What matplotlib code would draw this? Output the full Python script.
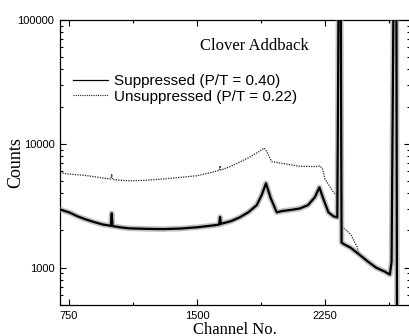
import numpy as np
import matplotlib.pyplot as plt
from matplotlib.lines import Line2D
from matplotlib.ticker import LogLocator, FixedLocator, NullFormatter

# suppressed spectrum (channel, counts)
sup_ch = [697, 750, 800, 850, 900, 950, 995, 1000, 1005, 1050, 1100, 1200, 1300,
          1400, 1500, 1600, 1630, 1635, 1640, 1700, 1750, 1800, 1850, 1880, 1904,
          1930, 1967, 2000, 2050, 2100, 2150, 2190, 2217, 2240, 2270, 2300, 2322,
          2330, 2342, 2347, 2360, 2400, 2450, 2500, 2550, 2600, 2630, 2640, 2652,
          2668, 2672, 2748]
sup_counts = [2950, 2800, 2600, 2450, 2330, 2230, 2180, 2750, 2170, 2120, 2080, 2060, 2050,
              2070, 2120, 2200, 2230, 2570, 2260, 2380, 2550, 2800, 3200, 3900, 4800,
              3700, 2800, 2870, 2930, 3000, 3200, 3700, 4450, 3600, 2800, 2600, 2550,
              200000, 200000, 1600, 1550, 1450, 1280, 1125, 1000, 930, 880, 1120, 200000,
              200000, 300, 300]

# unsuppressed spectrum
uns_ch = [697, 750, 850, 950, 995, 1000, 1005, 1100, 1200, 1300, 1400, 1500, 1600,
          1630, 1635, 1640, 1700, 1800, 1860, 1894, 1910, 1937, 2000, 2100, 2200,
          2220, 2235, 2250, 2300, 2322, 2330, 2342, 2347, 2400, 2437, 2450, 2500,
          2550, 2600, 2630, 2640, 2652, 2668, 2672, 2748]
uns_counts = [5850, 5700, 5550, 5300, 5200, 5700, 5150, 5030, 5080, 5200, 5360, 5530, 5950,
              6100, 6660, 6150, 6600, 7700, 8600, 9250, 8600, 7200, 6950, 6600, 6550,
              6650, 6300, 5200, 4050, 3800, 200000, 200000, 2170, 1860, 1480, 1290, 1130,
              1005, 935, 885, 1125, 200000, 200000, 300, 300]

x_major = [750, 1500, 2250]
x_minor = [1125, 1875, 2625]

fig = plt.figure(figsize=(4.09, 3.36), dpi=100)
ax = fig.add_axes([60 / 409, 31 / 336, 350 / 409, 285 / 336])

ax.plot(uns_ch, uns_counts, color='#222222', lw=0.9, ls=(0, (1, 1)), zorder=2)
ax.plot(sup_ch, sup_counts, color='#999999', lw=4, alpha=0.6, zorder=3)
ax.plot(sup_ch, sup_counts, color='black', lw=1.6, zorder=4)

ax.set_yscale('log')
ax.set_xlim(697, 2748)
ax.set_ylim(500, 100000)

ax.xaxis.set_major_locator(FixedLocator(x_major))
ax.xaxis.set_minor_locator(FixedLocator(x_minor))
ax.yaxis.set_minor_locator(LogLocator(base=10, subs=np.arange(2, 10), numticks=10))
ax.yaxis.set_minor_formatter(NullFormatter())
ax.set_yticks([1000, 10000, 100000])
ax.set_yticklabels(['1000', '10000', '100000'])

ax.tick_params(which='both', direction='in', top=True, right=True,
               labelsize=8, width=0.8, pad=4)
ax.tick_params(which='major', length=4)
ax.tick_params(which='minor', length=2.5)
for lab in ax.get_xticklabels() + ax.get_yticklabels():
    lab.set_fontfamily('Liberation Sans')
for s in ax.spines.values():
    s.set_linewidth(0.9)

ax.set_xlabel('Channel No.', family='Liberation Serif', fontsize=12)
ax.xaxis.set_label_coords(0.5, -0.058)
ax.set_ylabel('Counts', family='Liberation Serif', fontsize=13)
ax.yaxis.set_label_coords(-0.102, 0.5)

ax.text(0.4, 0.909, 'Clover Addback', transform=ax.transAxes,
        family='Liberation Serif', fontsize=12, va='center', ha='left')

handles = [Line2D([], [], color='black', lw=0.9),
           Line2D([], [], color='#222222', lw=0.8, ls=(0, (1, 1)))]
labels = ['Suppressed (P/T = 0.40)', 'Unsuppressed (P/T = 0.22)']
ax.legend(handles, labels, loc='upper left', bbox_to_anchor=(0.036, 0.81),
          frameon=False, borderpad=0, borderaxespad=0, handlelength=2.3,
          handletextpad=0.4, labelspacing=0.1,
          prop={'family': 'Liberation Sans', 'size': 11})

fig.savefig('out.png', dpi=100)
